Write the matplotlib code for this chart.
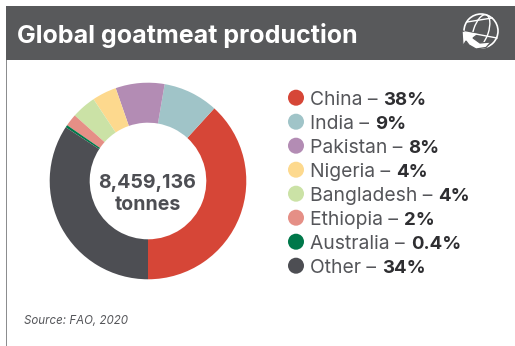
import matplotlib
matplotlib.use('Agg')
import matplotlib.pyplot as plt
from matplotlib.patches import Rectangle, Circle, Ellipse, Polygon

plt.rcParams['font.family'] = ['Inter', 'DejaVu Sans']

countries = ['China', 'India', 'Pakistan', 'Nigeria', 'Bangladesh', 'Ethiopia', 'Australia', 'Other']
shares = [38, 9, 8, 4, 4, 2, 0.4, 34]
share_labels = ['38%', '9%', '8%', '4%', '4%', '2%', '0.4%', '34%']
colors = ['#d64637', '#a0c4c8', '#b38cb4', '#fdd98e', '#cbe2a6', '#e58f86', '#00784a', '#4d4e53']

W, H = 515, 346
fig = plt.figure(figsize=(W / 100, H / 100), dpi=100, facecolor='white')

# canvas in pixel units, y pointing down
bg = fig.add_axes([0, 0, 1, 1])
bg.set_xlim(0, W)
bg.set_ylim(H, 0)
bg.axis('off')

# header bar and left border
bg.add_patch(Rectangle((5.5, 6), W, 54, fc='#58595b', ec='none'))
bg.add_patch(Rectangle((5.5, 60), 1.6, H - 60, fc='#8c8d8f', ec='none'))
bg.text(17, 43.5, 'Global goatmeat production', color='white', fontsize=18,
        fontweight='bold', va='baseline', ha='left')

# globe icon
cx, cy, r = 481, 31, 17
bg.add_patch(Circle((cx, cy), r, fc='none', ec='white', lw=1.2))
bg.add_patch(Ellipse((cx, cy), 15, 2 * r, angle=18, fc='none', ec='white', lw=1.0))
bg.plot([cx - 14, cx + 11], [cy - 9, cy - 13], color='white', lw=1.0)
bg.plot([cx - 16, cx + 16], [cy + 1, cy + 7], color='white', lw=1.0)
# return arrow across the lower left of the globe
bg.add_patch(Polygon([(462, 31), (479, 33.5), (473, 38), (480, 43), (491, 42), (486, 47.5),
                      (476, 49), (469, 45), (466, 41), (463, 46)],
                     fc='white', ec='#58595b', lw=0.9))

# donut
ro, ri = 98.3, 58.3
dx, dy = 148, 181
pie_ax = fig.add_axes([(dx - ro) / W, 1 - (dy + ro) / H, 2 * ro / W, 2 * ro / H])
pie_ax.pie(shares, colors=colors, startangle=-90, counterclock=True, radius=1,
           wedgeprops=dict(width=1 - ri / ro, linewidth=0))
pie_ax.set_xlim(-1, 1)
pie_ax.set_ylim(-1, 1)

bg.text(147.5, 181, '8,459,136', color='#4d4e53', fontsize=14.1, fontweight='bold',
        ha='center', va='center_baseline')
bg.text(147.5, 203, 'tonnes', color='#4d4e53', fontsize=14.1, fontweight='bold',
        ha='center', va='center_baseline')

# legend: coloured dot, country in regular, share in bold
renderer = fig.canvas.get_renderer()
for i, (name, label, col) in enumerate(zip(countries, share_labels, colors)):
    y = 97.7 + 24 * i
    bg.add_patch(Ellipse((296, y), 16, 16, fc=col, ec='none'))
    t = bg.text(310, y + 7, f'{name} \u2013', color='#55565a', fontsize=13.9,
                va='baseline', ha='left')
    x1 = t.get_window_extent(renderer).x1
    bg.text(x1 + 6, y + 7, label, color='#2e2e31', fontsize=13.4, fontweight='bold',
            va='baseline', ha='left')

bg.text(24, 324, 'Source: FAO, 2020', color='#55565a', fontsize=8.3, style='italic',
        va='baseline', ha='left')

fig.savefig('out.png', dpi=100, facecolor='white')
